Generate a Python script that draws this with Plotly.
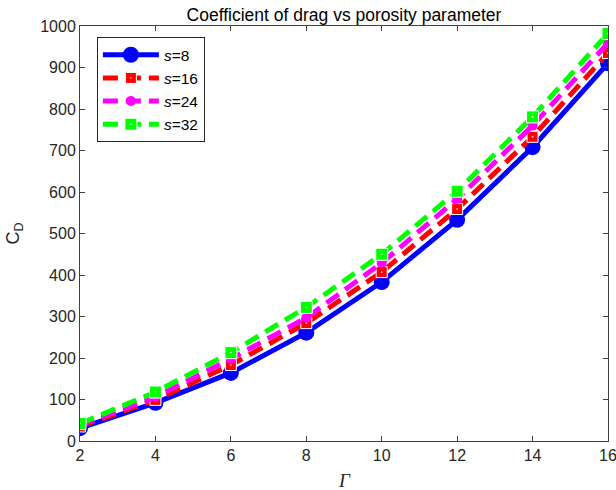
import plotly.graph_objects as go

gamma = [2, 4, 6, 8, 10, 12, 14, 16]
cd_s8 = [31, 92, 164, 261, 383, 533, 708, 910]
cd_s16 = [35, 99, 183, 284, 407, 559, 733, 935]
cd_s24 = [38, 106, 198, 297, 429, 583, 760, 959]
cd_s32 = [42, 118, 213, 322, 450, 602, 781, 982]
series_names = ["<i>s</i>=8", "<i>s</i>=16", "<i>s</i>=24", "<i>s</i>=32"]
x_title = "<i>Γ</i>"

fig = go.Figure()
fig.add_trace(go.Scatter(x=gamma, y=cd_s8, name=series_names[0], mode="lines+markers",
                         line=dict(color="#0000FF", width=5),
                         marker=dict(symbol="circle", size=16, color="#0000FF")))
fig.add_trace(go.Scatter(x=gamma, y=cd_s16, name=series_names[1], mode="lines+markers",
                         line=dict(color="#FF0000", width=5, dash="15px,8px"),
                         marker=dict(symbol="square-dot", size=11, color="#FF0000",
                                     line=dict(color="white", width=1))))
fig.add_trace(go.Scatter(x=gamma, y=cd_s24, name=series_names[2], mode="lines+markers",
                         line=dict(color="#FF00FF", width=5, dash="15px,8px"),
                         marker=dict(symbol="circle", size=10, color="#FF00FF")))
fig.add_trace(go.Scatter(x=gamma, y=cd_s32, name=series_names[3], mode="lines+markers",
                         line=dict(color="#00FF00", width=5, dash="15px,8px"),
                         marker=dict(symbol="square-dot", size=12, color="#00FF00",
                                     line=dict(color="white", width=1))))

axis_common = dict(showline=True, linecolor="#404040", linewidth=1, mirror="allticks",
                   ticks="inside", ticklen=5, tickcolor="#404040", showgrid=False,
                   zeroline=False, automargin=False,
                   tickfont=dict(family="Liberation Sans, Arial", size=16, color="#262626"))

fig.update_layout(
    width=616, height=490,
    margin=dict(l=80, r=8, t=26, b=49),
    plot_bgcolor="white", paper_bgcolor="white",
    title=dict(text="Coefficient of drag vs porosity parameter", x=0.5, xanchor="center",
               xref="paper", y=0.969, yanchor="middle",
               font=dict(family="Liberation Sans, Arial", size=17.5, color="black")),
    xaxis=dict(range=[2, 16], tickvals=gamma, ticktext=[str(g) for g in gamma],
               ticklabeloverflow="allow", **axis_common),
    yaxis=dict(range=[0, 1000], dtick=100,
               title=dict(text="C<sub>D</sub>", font=dict(family="Liberation Sans, Arial", size=18, color="#262626")),
               **axis_common),
    legend=dict(x=0.032, y=0.973, xanchor="left", yanchor="top",
                bordercolor="#262626", borderwidth=1, bgcolor="white",
                font=dict(family="Liberation Sans, Arial", size=15.5, color="black"),
                tracegroupgap=0, itemwidth=56),
    showlegend=True,
)
fig.add_annotation(text=x_title, xref="paper", yref="paper", x=0.5, y=-0.094,
                   xanchor="center", yanchor="middle", showarrow=False,
                   font=dict(family="Liberation Serif, Times New Roman", size=19, color="#262626"))

fig.write_html("out.html")
